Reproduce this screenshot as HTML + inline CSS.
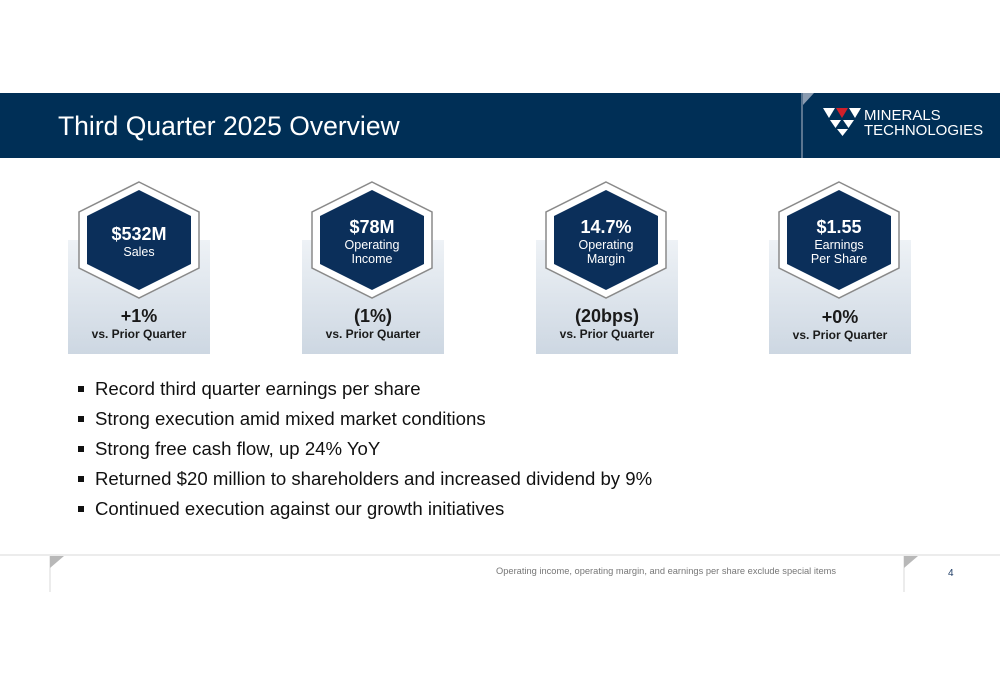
<!DOCTYPE html>
<html><head><meta charset="utf-8"><style>
body{margin:0;width:1000px;height:685px;background:#fff;font-family:"Liberation Sans",Arial,sans-serif;position:relative;overflow:hidden}
.abs{position:absolute}
.hdr{left:0;top:93px;width:1000px;height:65px;background:#002f56}
.title{left:58px;top:111px;color:#fff;font-size:26.5px}
.card{width:142px;height:114px;top:240px;background:linear-gradient(#eef2f6,#cdd7e2)}
.pct{width:142px;text-align:center;font-weight:bold;color:#1a1a1a}
.htxt{width:118px;text-align:center;color:#fff}
ul{margin:0;padding:0;list-style:none}
li{position:absolute;left:95px;font-size:18.6px;color:#111}
li::before{content:"";position:absolute;left:-17px;top:8px;width:6px;height:6px;background:#111}
</style></head><body>
<div class="abs hdr"></div>
<div class="abs title">Third Quarter 2025 Overview</div>
<svg class="abs" style="left:800px;top:93px" width="200" height="65">
<line x1="2" y1="0" x2="2" y2="65" stroke="#5a7590" stroke-width="2"/>
<polygon points="3,0 14,0 3,12" fill="#8a9bb0"/>
<g fill="#fff"><polygon points="23,15 35,15 29,25"/><polygon points="36,15 48,15 42,25" fill="#d0202a"/><polygon points="49,15 61,15 55,25"/>
<polygon points="30,27 41,27 35.5,35"/><polygon points="43,27 54,27 48.5,35"/><polygon points="37,36 48,36 42.5,43"/></g>
<text x="64" y="27" fill="#fff" font-size="15" font-family="Liberation Sans">MINERALS</text>
<text x="64" y="42" fill="#fff" font-size="15" font-family="Liberation Sans">TECHNOLOGIES</text>
</svg>

<div class="abs card" style="left:68px"></div>
<div class="abs card" style="left:302px"></div>
<div class="abs card" style="left:536px"></div>
<div class="abs card" style="left:769px"></div>

<svg class="abs" style="left:0;top:0" width="1000" height="400">
<defs><g id="hx"><polygon points="0,-58 60,-28 60,28 0,58 -60,28 -60,-28" fill="#fff" stroke="#8a8a8a" stroke-width="1.5"/>
<polygon points="0,-50 52,-24 52,24 0,50 -52,24 -52,-24" fill="#0b2f5a"/></g></defs>
<use href="#hx" x="139" y="240"/><use href="#hx" x="372" y="240"/><use href="#hx" x="606" y="240"/><use href="#hx" x="839" y="240"/>
</svg>

<div class="abs htxt" style="left:80px;top:224px"><div style="font-size:18px;font-weight:bold">$532M</div><div style="font-size:12.5px">Sales</div></div>
<div class="abs htxt" style="left:313px;top:217px"><div style="font-size:18px;font-weight:bold">$78M</div><div style="font-size:12.5px;line-height:14px">Operating<br>Income</div></div>
<div class="abs htxt" style="left:547px;top:217px"><div style="font-size:18px;font-weight:bold">14.7%</div><div style="font-size:12.5px;line-height:14px">Operating<br>Margin</div></div>
<div class="abs htxt" style="left:780px;top:217px"><div style="font-size:18px;font-weight:bold">$1.55</div><div style="font-size:12.5px;line-height:14px">Earnings<br>Per Share</div></div>

<div class="abs pct" style="left:68px;top:306px"><div style="font-size:18px">+1%</div><div style="font-size:12px">vs. Prior Quarter</div></div>
<div class="abs pct" style="left:302px;top:306px"><div style="font-size:18px">(1%)</div><div style="font-size:12px">vs. Prior Quarter</div></div>
<div class="abs pct" style="left:536px;top:306px"><div style="font-size:18px">(20bps)</div><div style="font-size:12px">vs. Prior Quarter</div></div>
<div class="abs pct" style="left:769px;top:307px"><div style="font-size:18px">+0%</div><div style="font-size:12px">vs. Prior Quarter</div></div>

<ul>
<li style="top:378px">Record third quarter earnings per share</li>
<li style="top:408px">Strong execution amid mixed market conditions</li>
<li style="top:438px">Strong free cash flow, up 24% YoY</li>
<li style="top:468px">Returned $20 million to shareholders and increased dividend by 9%</li>
<li style="top:498px">Continued execution against our growth initiatives</li>
</ul>

<svg class="abs" style="left:0;top:550px" width="1000" height="50">
<line x1="0" y1="5" x2="1000" y2="5" stroke="#e6e6e6" stroke-width="1.5"/>
<line x1="50" y1="6" x2="50" y2="42" stroke="#d8d8d8"/><polygon points="50,6 64,6 50,18" fill="#b8b8b8"/>
<line x1="904" y1="6" x2="904" y2="42" stroke="#d8d8d8"/><polygon points="904,6 918,6 904,18" fill="#b8b8b8"/>
</svg>
<div class="abs" style="left:496px;top:566px;font-size:9.3px;color:#777">Operating income, operating margin, and earnings per share exclude special items</div>
<div class="abs" style="left:948px;top:568px;font-size:10px;color:#1f3d66">4</div>
</body></html>
